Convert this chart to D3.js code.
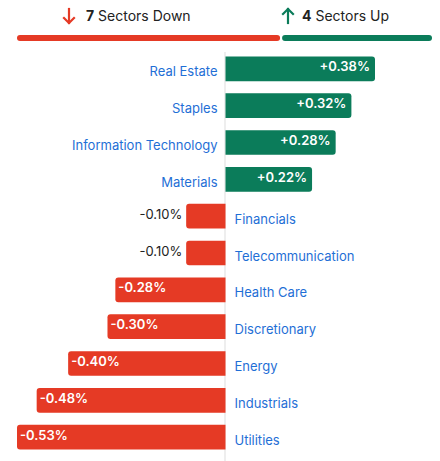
<!DOCTYPE html>
<html><head><meta charset="utf-8">
<script src="https://cdn.jsdelivr.net/npm/d3@7"></script>
<style>body{margin:0;background:#fff;font-family:Inter,"Noto Sans",sans-serif;}</style>
</head><body><svg width="440" height="461"></svg>
<script>
const sectors = ["Real Estate","Staples","Information Technology","Materials","Financials","Telecommunication","Health Care","Discretionary","Energy","Industrials","Utilities"];
const changes = [0.38,0.32,0.28,0.22,-0.10,-0.10,-0.28,-0.30,-0.40,-0.48,-0.53];
const downCount = 7, upCount = 4;

const RED = "#e53a25", GREEN = "#0b7c5a", BLUE = "#1f6fd6";
const svg = d3.select("svg");

// header
const hx = d3.scaleLinear().domain([0, downCount + upCount]).range([17, 432]);
svg.append("rect").attr("x", hx(0)).attr("y", 35).attr("width", hx(downCount) - hx(0) - 1).attr("height", 6).attr("rx", 3).attr("fill", RED);
svg.append("rect").attr("x", hx(downCount) + 1).attr("y", 35).attr("width", hx(downCount + upCount) - hx(downCount) - 1).attr("height", 6).attr("rx", 3).attr("fill", GREEN);

function arrow(x, up, color) {
  const g = svg.append("g").attr("transform", `translate(${x},16)`).attr("stroke", color).attr("stroke-width", 2.2).attr("fill", "none").attr("stroke-linecap", "square");
  const s = up ? -1 : 1;
  g.append("line").attr("x1", 0).attr("y1", -7 * s).attr("x2", 0).attr("y2", 7 * s);
  g.append("polyline").attr("points", `-5,${2 * s} 0,${7 * s} 5,${2 * s}`);
}
arrow(69, false, RED);
arrow(288, true, GREEN);
const h1 = svg.append("text").attr("x", 86).attr("y", 21).attr("font-size", 14).attr("fill", "#222");
h1.append("tspan").attr("font-weight", "bold").text(downCount);
h1.append("tspan").text(" Sectors Down");
const h2 = svg.append("text").attr("x", 302).attr("y", 21).attr("font-size", 14).attr("fill", "#222");
h2.append("tspan").attr("font-weight", "bold").text(upCount);
h2.append("tspan").text(" Sectors Up");

// bars
const x = d3.scaleLinear().domain([-0.53, 0.38]).range([17, 375]);
const y = d3.scaleBand().domain(sectors).range([51, 455]).paddingInner(0.33).paddingOuter(0.15);
const x0 = x(0);

svg.append("line").attr("x1", x0 - 0.5).attr("x2", x0 - 0.5).attr("y1", 52).attr("y2", 461).attr("stroke", "#ddd").attr("stroke-width", 1);

const rows = svg.selectAll("g.row").data(sectors.map((s, i) => ({s, v: changes[i]}))).join("g").attr("class", "row");
rows.each(function(d) {
  const g = d3.select(this);
  const top = y(d.s), bh = y.bandwidth(), cy = top + bh / 2;
  const pos = d.v >= 0;
  const bx = pos ? x0 : x(d.v), bw = Math.abs(x(d.v) - x0);
  g.append("path").attr("fill", pos ? GREEN : RED).attr("d", pos
    ? `M${bx},${top}H${bx + bw - 3}Q${bx + bw},${top} ${bx + bw},${top + 3}V${top + bh - 3}Q${bx + bw},${top + bh} ${bx + bw - 3},${top + bh}H${bx}Z`
    : `M${bx + bw},${top}H${bx + 3}Q${bx},${top} ${bx},${top + 3}V${top + bh - 3}Q${bx},${top + bh} ${bx + 3},${top + bh}H${bx + bw}Z`);
  const label = (pos ? "+" : "") + d.v.toFixed(2) + "%";
  if (pos) {
    g.append("text").attr("x", bx + bw - 5).attr("y", cy - 1).attr("dominant-baseline", "middle").attr("text-anchor", "end").attr("font-size", 13).attr("font-weight", 600).attr("fill", "#fff").text(label);
    g.append("text").attr("x", x0 - 8).attr("y", cy + 4).attr("dominant-baseline", "middle").attr("text-anchor", "end").attr("font-size", 13).attr("fill", BLUE).text(d.s);
  } else {
    if (bw > 60) {
      g.append("text").attr("x", bx + 3).attr("y", cy - 1).attr("dominant-baseline", "middle").attr("font-size", 13).attr("font-weight", 600).attr("fill", "#fff").text(label);
    } else {
      g.append("text").attr("x", bx - 4).attr("y", cy - 1).attr("dominant-baseline", "middle").attr("text-anchor", "end").attr("font-size", 13).attr("fill", "#222").text(label);
    }
    g.append("text").attr("x", x0 + 9).attr("y", cy + 4).attr("dominant-baseline", "middle").attr("font-size", 13).attr("fill", BLUE).text(d.s);
  }
});
</script></body></html>
